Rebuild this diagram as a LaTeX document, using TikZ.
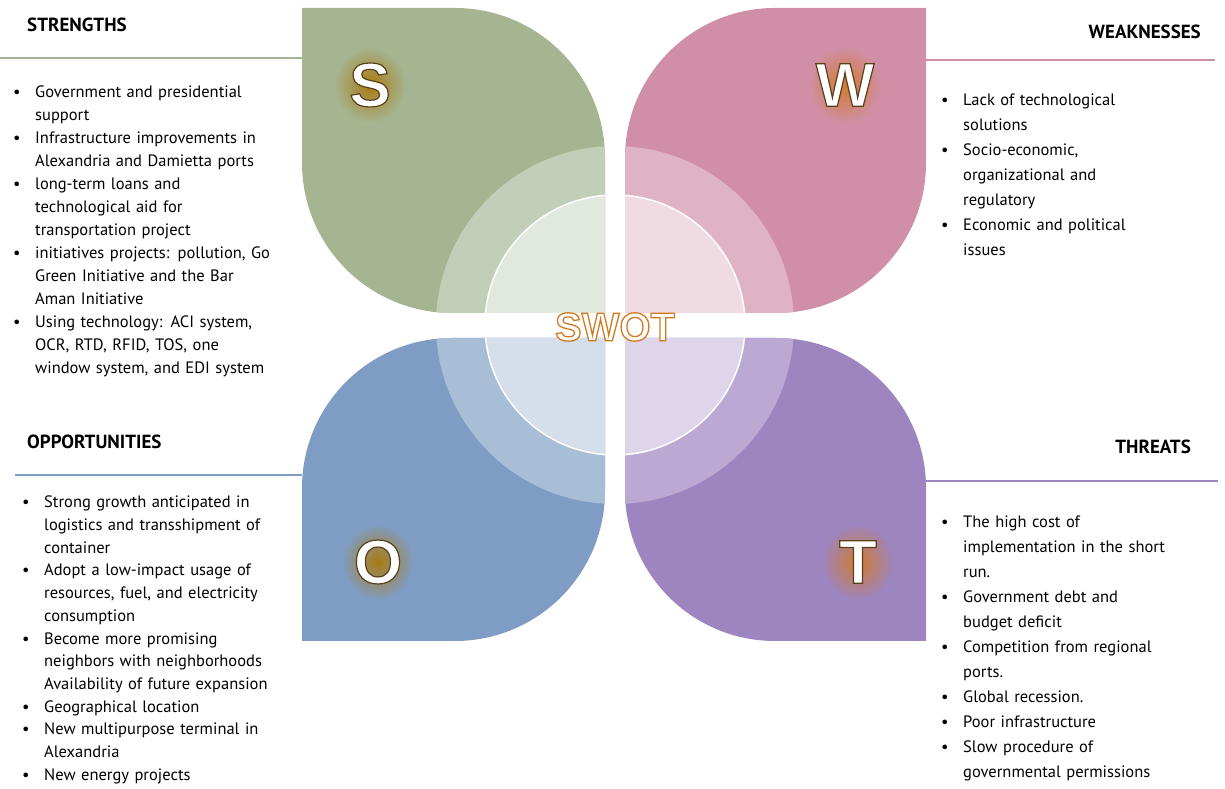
\documentclass[tikz,border=0pt]{standalone}
\usepackage{fontspec}
\setmainfont{PT Sans}
\newfontfamily\bigfont{Liberation Sans}
\definecolor{gS}{HTML}{A5B592}\definecolor{gS2}{HTML}{C2CFB8}\definecolor{gS3}{HTML}{E1E8DD}
\definecolor{gW}{HTML}{D08FA6}\definecolor{gW2}{HTML}{DFB3C3}\definecolor{gW3}{HTML}{F0DBE3}
\definecolor{gO}{HTML}{7F9DC4}\definecolor{gO2}{HTML}{A8BDD6}\definecolor{gO3}{HTML}{D5DEEB}
\definecolor{gT}{HTML}{9D85BF}\definecolor{gT2}{HTML}{BBA9D4}\definecolor{gT3}{HTML}{DED5EB}
\definecolor{glow}{HTML}{A87A10}\definecolor{glowo}{HTML}{D07A30}
\newcommand\bitem[1]{\par\hangindent=22pt\hangafter=1\noindent\makebox[22pt][l]{\textbullet}#1}
\newcommand\outl[1]{\special{pdf:literal direct q 2 Tr 1.3 w 0.82 0.48 0.13 RG}#1\special{pdf:literal direct Q}}
\newcommand\outw[1]{\special{pdf:literal direct q 2 Tr 1.2 w 0.35 0.25 0.1 RG}#1\special{pdf:literal direct Q}}
\begin{document}
\begin{tikzpicture}[x=1pt,y=1pt,
  head/.style={font=\fontsize{19}{22}\selectfont\bfseries,inner sep=0pt},
  body/.style={font=\fontsize{16.5}{#1}\selectfont,inner sep=0pt,align=left,text width=275pt,anchor=north west},
  big/.style={font=\fontsize{62}{62}\selectfont\bigfont\bfseries,text=white}]
\useasboundingbox (0,0) rectangle (1225,789);
\def\pS{(302,781) -- (455,781) arc[start angle=90,end angle=0,radius=150] -- (605,476) -- (452,476) arc[start angle=270,end angle=180,radius=150] -- cycle}
\def\pW{(926,781) -- (926,626) arc[start angle=0,end angle=-90,radius=150] -- (625,476) -- (625,631) arc[start angle=180,end angle=90,radius=150] -- cycle}
\def\pO{(302,148) -- (302,301) arc[start angle=180,end angle=90,radius=150] -- (605,451) -- (605,298) arc[start angle=0,end angle=-90,radius=150] -- cycle}
\def\pT{(625,451) -- (776,451) arc[start angle=90,end angle=0,radius=150] -- (926,148) -- (775,148) arc[start angle=270,end angle=180,radius=150] -- cycle}
\coordinate (c) at (615,464);
\foreach \p/\a/\b/\cc in {\pS/gS/gS2/gS3,\pW/gW/gW2/gW3,\pO/gO/gO2/gO3,\pT/gT/gT2/gT3}{
  \fill[\a] \p;
  \begin{scope}
    \clip \p;
    \fill[\b] (c) circle[radius=179];
    \fill[\cc,draw=white,line width=1.5pt] (c) circle[radius=130];
  \end{scope}
}
\foreach \x/\y/\pc/\gc in {370/704/gS/glow,845/704/gW/glowo,378/227/gO/glow,858/227/gT/glowo}{
  \shade[inner color=\gc,outer color=\pc] (\x,\y) ellipse[x radius=36,y radius=38];
}
\node[big] (S) at (370,704) {\outw{S}};
\node[big] (W) at (845,704) {\outw{W}};
\node[big] (O) at (378,227) {\outw{O}};
\node[big] (T) at (858,227) {\outw{T}};
\node[font=\fontsize{40}{40}\selectfont\bigfont\bfseries,text=white] (swot) at (615,462) {\outl{SWOT}};
% headers and rules
\node[head,anchor=west] (hs) at (27,764) {STRENGTHS};
\draw[gS,line width=1.5pt] (0,731) -- (302,731);
\node[head,anchor=east] (hw) at (1201,757) {WEAKNESSES};
\draw[gW,line width=1.5pt] (926,729) -- (1215,729);
\node[head,anchor=west] (ho) at (27,347) {OPPORTUNITIES};
\draw[gO,line width=1.5pt] (15,314) -- (302,314);
\node[head,anchor=east] (ht) at (1191,342) {THREATS};
\draw[gT,line width=1.5pt] (926,308) -- (1218,308);
% lists
\node[body=23pt] (ls) at (13,715) {%
\bitem{Government and presidential\newline support}
\bitem{Infrastructure improvements in\newline Alexandria and Damietta ports}
\bitem{long-term loans and\newline technological aid for\newline transportation project}
\bitem{initiatives projects: pollution, Go\newline Green Initiative and the Bar\newline Aman Initiative}
\bitem{Using technology: ACI system,\newline OCR, RTD, RFID, TOS, one\newline window system, and EDI system}\par};
\node[body=25pt] (lw) at (941,709) {%
\bitem{Lack of technological\newline solutions}
\bitem{Socio-economic,\newline organizational and\newline regulatory}
\bitem{Economic and political\newline issues}\par};
\node[body=22.7pt] (lo) at (22,304) {%
\bitem{Strong growth anticipated in\newline logistics and transshipment of\newline container}
\bitem{Adopt a low-impact usage of\newline resources, fuel, and electricity\newline consumption}
\bitem{Become more promising\newline neighbors with neighborhoods\newline Availability of future expansion}
\bitem{Geographical location}
\bitem{New multipurpose terminal in\newline Alexandria}
\bitem{New energy projects}\par};
\node[body=25pt] (lt) at (941,287) {%
\bitem{The high cost of\newline implementation in the short\newline run.}
\bitem{Government debt and\newline budget deficit}
\bitem{Competition from regional\newline ports.}
\bitem{Global recession.}
\bitem{Poor infrastructure}
\bitem{Slow procedure of\newline governmental permissions}\par};
\end{tikzpicture}
\end{document}
